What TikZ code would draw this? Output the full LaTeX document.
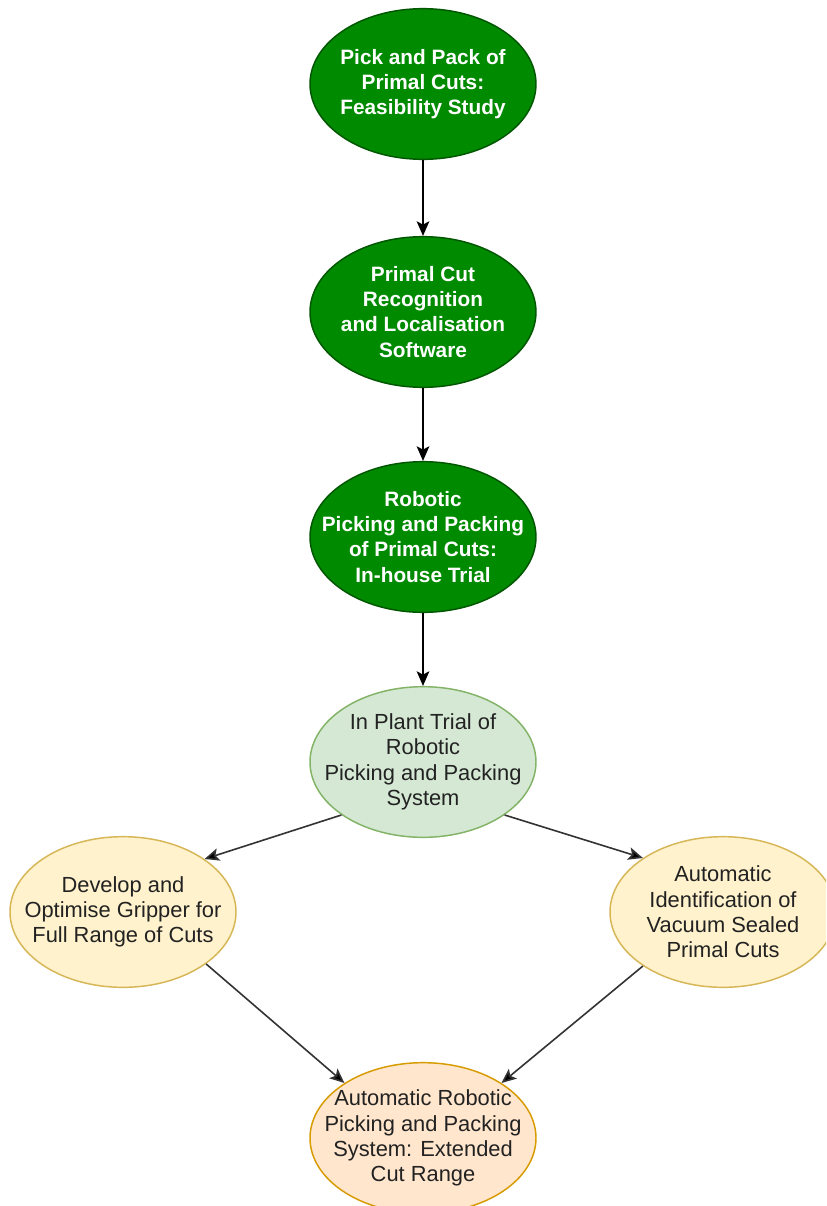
\documentclass[tikz,border=0pt]{standalone}
\usepackage{fontspec}
\setmainfont{Liberation Sans}
\usetikzlibrary{shapes.geometric,arrows.meta}
\definecolor{dgfill}{HTML}{008A00}
\definecolor{dgline}{HTML}{005700}
\definecolor{lgfill}{HTML}{D5E8D4}
\definecolor{lgline}{HTML}{82B366}
\definecolor{yfill}{HTML}{FFF2CC}
\definecolor{yline}{HTML}{D6B656}
\definecolor{ofill}{HTML}{FFE6CC}
\definecolor{oline}{HTML}{D79B00}
\definecolor{txt}{HTML}{222222}
\tikzset{
  ell/.style={ellipse, inner sep=0pt, line width=1.1pt, minimum width=169.5pt, minimum height=113pt},
  darkell/.style={ell, fill=dgfill, draw=dgline},
  lightell/.style={ell, fill=lgfill, draw=lgline},
  yell/.style={ell, fill=yfill, draw=yline},
  oell/.style={ell, fill=ofill, draw=oline},
  btext/.style={align=center, text=white, font=\fontsize{15.6pt}{18.8pt}\selectfont\bfseries, inner sep=0pt},
  ntext/.style={align=center, text=txt, font=\fontsize{16.4pt}{19pt}\selectfont, inner sep=0pt},
  arr/.style={line width=1.2pt, draw=black, -{Stealth[length=11pt,width=9.5pt,inset=2.5pt]}},
  garr/.style={arr, draw=black!80, -{Stealth[length=11pt,width=9.5pt,inset=2.5pt,fill=black]}}
}
\begin{document}
\begin{tikzpicture}[x=0.75pt,y=-0.75pt]
\useasboundingbox (0,0) rectangle (826,1206);
\clip (0,0) rectangle (826,1206);
\node[darkell] (n1) at (423,84) {};
\node[btext] (t1) at (n1.center) {Pick and Pack of\\Primal Cuts:\\Feasibility Study};
\node[darkell] (n2) at (423,312) {};
\node[btext] (t2) at (n2.center) {Primal Cut\\Recognition\\and Localisation\\Software};
\node[darkell] (n3) at (423,537) {};
\node[btext] (t3) at (n3.center) {Robotic\\Picking and Packing\\of Primal Cuts:\\In-house Trial};
\node[lightell] (n4) at (423,762) {};
\node[ntext] (t4) at (n4.center) {In Plant Trial of\\Robotic\\Picking and Packing\\System};
\node[yell] (n5) at (123,912) {};
\node[ntext] (t5) at (n5.center) {Develop and\\Optimise Gripper for\\Full Range of Cuts};
\node[yell] (n6) at (723,912) {};
\node[ntext] (t6) at (n6.center) {Automatic\\Identification of\\Vacuum Sealed\\Primal Cuts};
\node[oell] (n7) at (423,1138) {};
\node[ntext] (t7) at (n7.center) {Automatic Robotic\\Picking and Packing\\System: Extended\\Cut Range};
\draw[arr] (n1) -- (n2);
\draw[arr] (n2) -- (n3);
\draw[arr] (n3) -- (n4);
\draw[garr] (n4.213) -- (n5.33);
\draw[garr] (n4.327) -- (n6.146);
\draw[garr] (n5.328) -- (n7.145);
\draw[garr] (n6.214) -- (n7.35);
\end{tikzpicture}
\end{document}
